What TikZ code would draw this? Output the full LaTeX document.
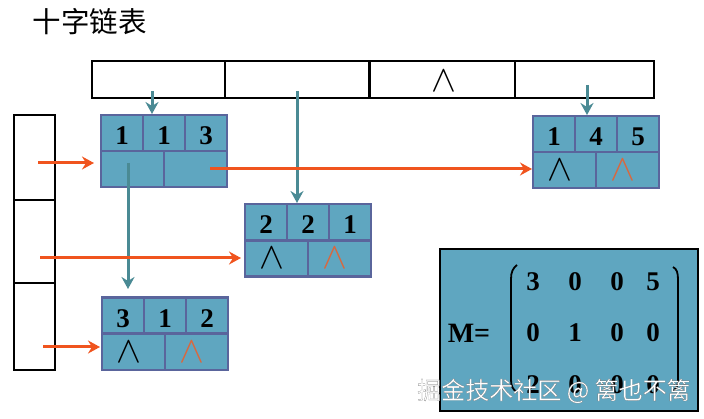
\documentclass[tikz,border=0pt]{standalone}
\usepackage{fontspec}
\setmainfont{Liberation Serif}
\newfontfamily\cjk{Noto Sans CJK SC}
\newfontfamily\cjkfat[FakeBold=0.6]{Noto Sans CJK SC}
\usetikzlibrary{arrows.meta,calc,positioning}
\definecolor{cellblue}{HTML}{5FA6C0}
\definecolor{cellline}{HTML}{5A659C}
\definecolor{tealarrow}{HTML}{4A8A94}
\definecolor{redarrow}{HTML}{F0541E}
\definecolor{redwedge}{HTML}{D9683E}
\newcommand{\nil}{\scalebox{1.5}[1.5]{\fontsize{24.88}{25}\selectfont$\wedge$}}
\newcommand{\lnil}{\nil\hspace*{9pt}}

\begin{document}
\begin{tikzpicture}[auto,>={Stealth[length=12pt,width=13pt,inset=4pt]},x=1pt,y=-1pt]
	\tikzstyle{head} = [draw, line width=2.6pt, rectangle, inner sep=0pt, outer sep=0pt, minimum height=37pt, text height=25pt, text depth=0pt]
	\tikzstyle{side} = [draw, line width=2.6pt, rectangle, inner sep=0pt, outer sep=0pt, minimum width=41pt]
	\tikzstyle{num} = [draw=cellline, fill=cellblue, line width=2.6pt, rectangle, inner sep=0pt, outer sep=0pt, minimum width=42pt, minimum height=36pt, font=\fontsize{27}{27}\selectfont\bfseries, text height=24pt, text depth=0pt]
	\tikzstyle{link} = [draw=cellline, fill=cellblue, line width=2.6pt, rectangle, inner sep=0pt, outer sep=0pt, minimum width=63pt, minimum height=36pt, text height=21pt, text depth=0pt]
	\tikzstyle{entry} = [inner sep=0pt, font=\fontsize{27}{27}\selectfont\bfseries]
	\tikzstyle{teal} = [->, draw=tealarrow, line width=3pt]
	\tikzstyle{red} = [->, draw=redarrow, line width=3pt]

	\useasboundingbox (0,0) rectangle (704,419);

	\node [font=\cjk\fontsize{28.5}{28.5}\selectfont] (title) at (89.5,22) {十字链表};

	% column heads
	\node [head, minimum width=133pt] (h1) at (158.5,79.5) {};
	\node [head, minimum width=144.5pt, right = 0pt of h1] (h2) {};
	\node [head, minimum width=145.5pt, right = 0pt of h2] (h3) {\hspace*{4pt}\nil};
	\node [head, minimum width=139pt, right = 0pt of h3] (h4) {};

	% row heads
	\node [side, minimum height=85pt] (r1) at (34.5,157.5) {};
	\node [side, minimum height=83pt, below = 0pt of r1] (r2) {};
	\node [side, minimum height=87pt, below = 0pt of r2] (r3) {};

	% 1 1 3
	\node [num] (a1) at (122,133) {1};
	\node [num, right = 0pt of a1] (a2) {1};
	\node [num, right = 0pt of a2] (a3) {3};
	\node [link] (a4) at (132.5,169) {};
	\node [link, right = 0pt of a4] (a5) {};

	% 2 2 1
	\node [num] (b1) at (266,222) {2};
	\node [num, right = 0pt of b1] (b2) {2};
	\node [num, right = 0pt of b2] (b3) {1};
	\node [link] (b4) at (276.5,258.5) {\lnil};
	\node [link, text=redwedge, right = 0pt of b4] (b5) {\lnil};

	% 3 1 2
	\node [num] (c1) at (123,315.5) {3};
	\node [num, right = 0pt of c1] (c2) {1};
	\node [num, right = 0pt of c2] (c3) {2};
	\node [link] (c4) at (133.5,352) {\lnil};
	\node [link, text=redwedge, right = 0pt of c4] (c5) {\lnil};

	% 1 4 5
	\node [num] (d1) at (554,134) {1};
	\node [num, right = 0pt of d1] (d2) {4};
	\node [num, right = 0pt of d2] (d3) {5};
	\node [link] (d4) at (564.5,170) {\lnil};
	\node [link, text=redwedge, right = 0pt of d4] (d5) {\lnil};

	% free ends of the arrows
	\node [coordinate] (t1) at (152,91) {};
	\node [coordinate] (t2) at (152,114) {};
	\node [coordinate] (t3) at (297,91) {};
	\node [coordinate] (t4) at (297,203) {};
	\node [coordinate] (t5) at (587,85) {};
	\node [coordinate] (t6) at (587,115) {};
	\node [coordinate] (t7) at (128,163) {};
	\node [coordinate] (t8) at (128,289) {};
	\node [coordinate] (o1) at (38,163) {};
	\node [coordinate] (o2) at (94,163) {};
	\node [coordinate] (o3) at (210,169) {};
	\node [coordinate] (o4) at (532,169) {};
	\node [coordinate] (o5) at (40,258) {};
	\node [coordinate] (o6) at (241,258) {};
	\node [coordinate] (o7) at (43,347) {};
	\node [coordinate] (o8) at (100,347) {};

	\draw [teal] (t1) -- (t2);
	\draw [teal] (t3) -- (t4);
	\draw [teal] (t5) -- (t6);
	\draw [teal] (t7) -- (t8);
	\draw [red] (o1) -- (o2);
	\draw [red] (o3) -- (o4);
	\draw [red] (o5) -- (o6);
	\draw [red] (o7) -- (o8);

	% matrix
	\node [draw, fill=cellblue, line width=2.6pt, rectangle, inner sep=0pt, minimum width=258pt, minimum height=162pt] (box) at (569,330) {};
	\node [entry, font=\fontsize{28}{28}\selectfont\bfseries] (mname) at (469,333) {M=};
	\node [entry] (m11) at (533,282) {3};
	\node [entry] (m12) at (575,282) {0};
	\node [entry] (m13) at (617,282) {0};
	\node [entry] (m14) at (653,282) {5};
	\node [entry] (m21) at (533,333) {0};
	\node [entry] (m22) at (575,333) {1};
	\node [entry] (m23) at (617,333) {0};
	\node [entry] (m24) at (653,333) {0};
	\node [entry] (m31) at (533,385) {2};
	\node [entry] (m32) at (575,385) {0};
	\node [entry] (m33) at (617,385) {0};
	\node [entry] (m34) at (653,385) {0};
	\draw [line width=1.8pt] (517,265) .. controls (513,268) and (511,272) .. (511,279) -- (511,380) .. controls (511,386) and (513,390) .. (517,392);
	\draw [line width=1.8pt] (673,267) .. controls (677,269) and (678,273) .. (678,280) -- (678,380) .. controls (678,385) and (677,388) .. (673,391);

	\node [text=white, font=\cjkfat\fontsize{24}{24}\selectfont] (mark) at (554,391) {\special{pdf:code 0.4 0.4 0.4 RG}掘金技术社区 @ 篱也不篱};
\end{tikzpicture}
\end{document}
